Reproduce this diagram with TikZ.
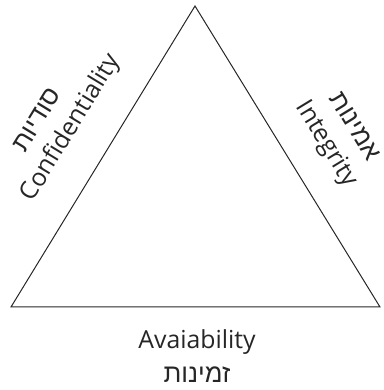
\documentclass[tikz,border=0pt]{standalone}
\usepackage{fontspec}
\setmainfont{Open Sans}
\newfontfamily\hebfont[Script=Hebrew,Scale=1.04]{Liberation Sans}
\TeXXeTstate=1
\usetikzlibrary{positioning}

\begin{document}
\begin{tikzpicture}[x=0.75pt,y=0.75pt]
  \useasboundingbox (0,0) rectangle (384,390);
  \coordinate (l) at (11,83);
  \coordinate (r) at (380,83);
  \coordinate (t) at (195,384);
  \draw[line width=0.75pt,color=black!85] (l) -- (t) -- (r) -- cycle;
  \begin{scope}[every node/.style={font=\fontsize{18.6}{22}\selectfont,text=black!85,inner sep=0pt}]
    \node[rotate=58.6] (conf) at (71,262) {Confidentiality};
    \node[rotate=58.6] (confheb) at (37,270) {\hebfont\beginR סודיות\endR};
    \node[rotate=-58.6] (integ) at (326,246) {Integrity};
    \node[rotate=-58.6] (integheb) at (355,264) {\hebfont\beginR אמינות\endR};
    \node (avail) at (197,48) {Avaiability};
    \node[below=9pt of avail] (availheb) {\hebfont\beginR זמינות\endR};
  \end{scope}
\end{tikzpicture}
\end{document}
